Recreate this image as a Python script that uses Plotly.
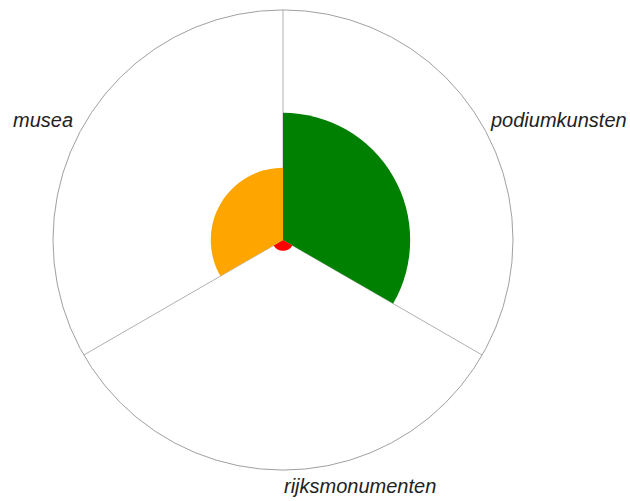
import plotly.graph_objects as go

categories = ["podiumkunsten", "rijksmonumenten", "musea"]
values = [55.3, 4.7, 31.4]
colors = ["green", "red", "orange"]
theta_centers = [60, 180, 300]
radial_max = 100

fig = go.Figure()
fig.add_trace(go.Barpolar(
    r=values,
    theta=theta_centers,
    width=[120, 120, 120],
    marker=dict(color=colors, line=dict(width=0)),
    hoverinfo="skip",
    showlegend=False,
))

W, H = 630, 501
cx, cy, rad = 283, 240, 230
fig.update_layout(
    width=W, height=H,
    margin=dict(l=0, r=0, t=0, b=0),
    paper_bgcolor="white",
    plot_bgcolor="white",
    polar=dict(
        domain=dict(x=[(cx - rad) / W, (cx + rad) / W],
                    y=[(H - cy - rad) / H, (H - cy + rad) / H]),
        bgcolor="white",
        radialaxis=dict(range=[0, radial_max], visible=False, showgrid=False),
        angularaxis=dict(
            rotation=90, direction="clockwise",
            tickvals=[0, 120, 240], showticklabels=False, ticks="",
            showgrid=True, gridcolor="#b0b0b0", gridwidth=1,
            showline=True, linecolor="#a0a0a0", linewidth=1,
        ),
    ),
)

label_pos = [
    (488, 120, "left"),
    (282, 486, "left"),
    (75, 120, "right"),
]
for name, (x, y, anchor) in zip(categories, label_pos):
    fig.add_annotation(
        x=x / W, y=1 - y / H, xref="paper", yref="paper",
        text=f"<i>{name}</i>", showarrow=False,
        xanchor=anchor, yanchor="middle",
        font=dict(family="Liberation Sans, Arial, sans-serif", size=20, color="#222222"),
    )

fig.write_html("out.html", config={"displayModeBar": False},
               post_script="document.body.style.margin='0px';document.body.style.overflow='hidden';")
